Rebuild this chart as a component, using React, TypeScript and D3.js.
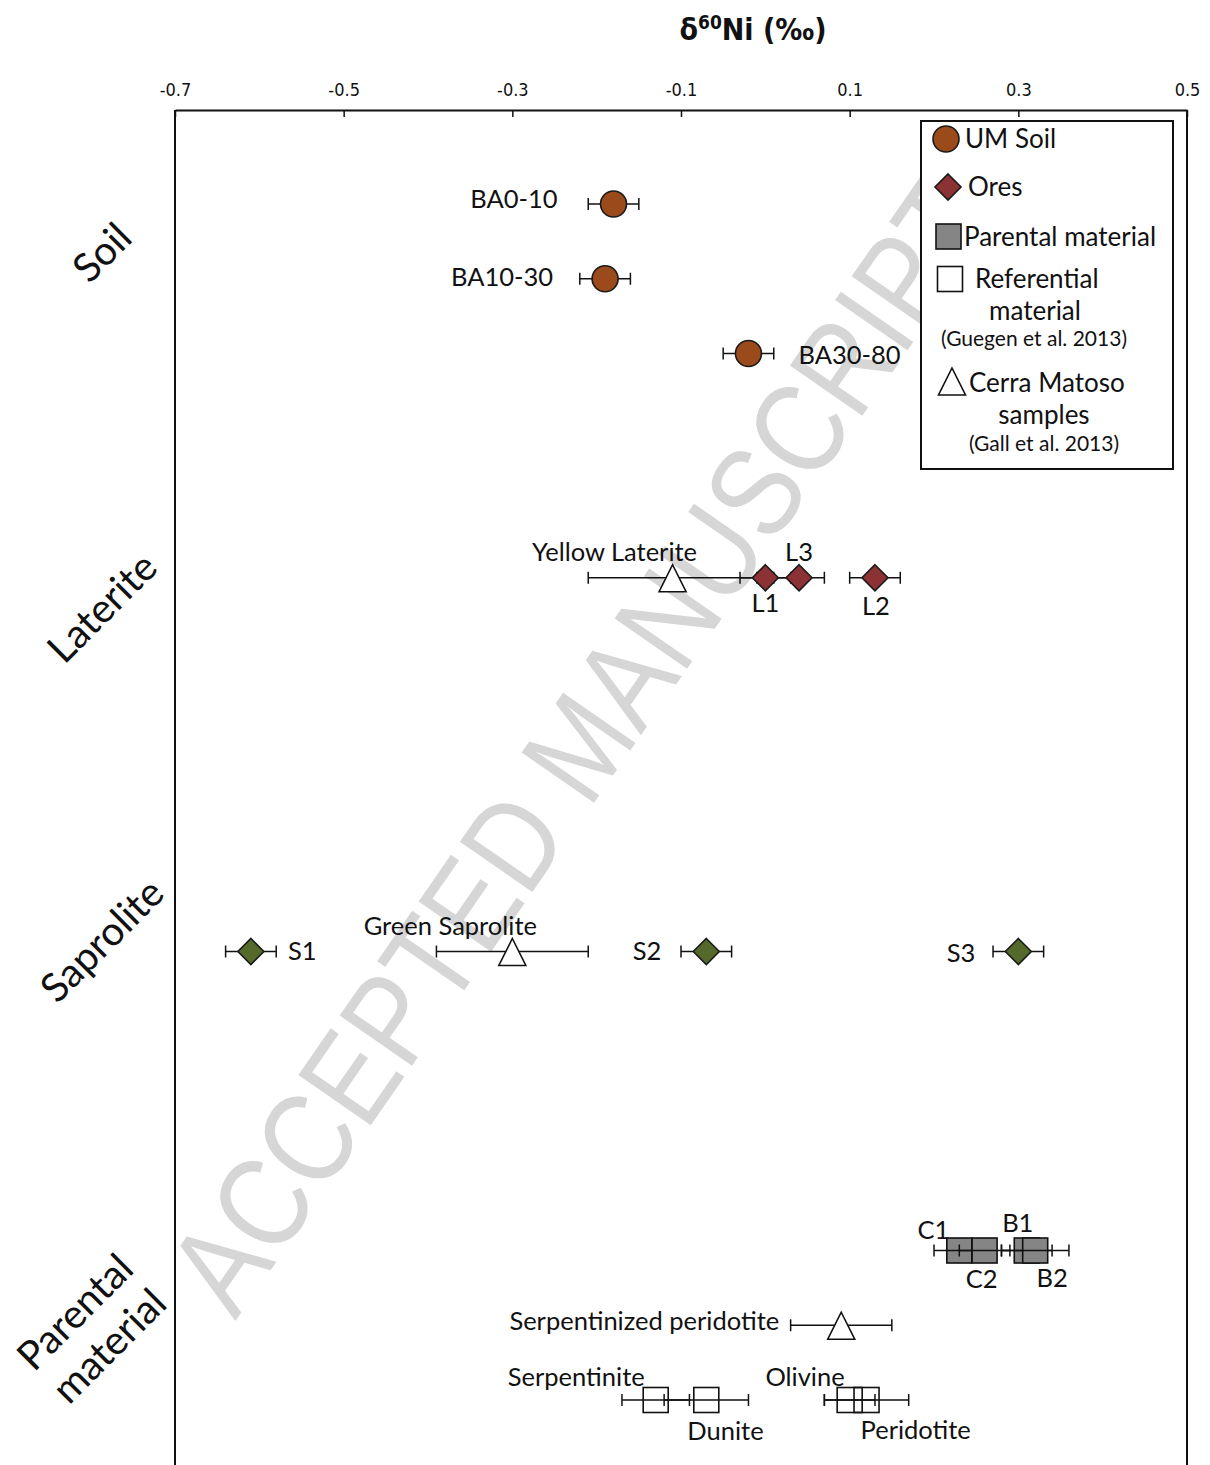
import React, { useEffect, useRef } from "react";
import * as d3 from "d3";

// δ60Ni values (‰) with 2SD error, row = vertical slot in the figure
const soilSamples = [
  { name: "BA0-10", value: -0.18, err: 0.03, row: 0 },
  { name: "BA10-30", value: -0.19, err: 0.03, row: 1 },
  { name: "BA30-80", value: -0.02, err: 0.03, row: 2 },
];
const oreSamples = [
  { name: "L1", value: 0.0, err: 0.03, row: 5 },
  { name: "L3", value: 0.04, err: 0.03, row: 5 },
  { name: "L2", value: 0.13, err: 0.03, row: 5 },
];
const saproliteSamples = [
  { name: "S1", value: -0.61, err: 0.03, row: 10 },
  { name: "S2", value: -0.07, err: 0.03, row: 10 },
  { name: "S3", value: 0.3, err: 0.03, row: 10 },
];
const parentalSamples = [
  { name: "C1", value: 0.23, err: 0.03, row: 14 },
  { name: "C2", value: 0.26, err: 0.03, row: 14 },
  { name: "B1", value: 0.31, err: 0.03, row: 14 },
  { name: "B2", value: 0.32, err: 0.04, row: 14 },
];
const referenceSamples = [
  { name: "Serpentinite", value: -0.13, err: 0.04, row: 16 },
  { name: "Dunite", value: -0.07, err: 0.05, row: 16 },
  { name: "Olivine", value: 0.1, err: 0.03, row: 16 },
  { name: "Peridotite", value: 0.12, err: 0.05, row: 16 },
];
const cerroMatosoSamples = [
  { name: "Yellow Laterite", value: -0.11, err: 0.1, row: 5 },
  { name: "Green Saprolite", value: -0.3, err: 0.09, row: 10 },
  { name: "Serpentinized peridotite", value: 0.09, err: 0.06, row: 15 },
];
const zoneLabels = [
  { lines: ["Soil"], row: 0.65 },
  { lines: ["Laterite"], row: 5.4 },
  { lines: ["Saprolite"], row: 9.85 },
  { lines: ["Parental", "material"], row: 15.05 },
];
const xTicks = [-0.7, -0.5, -0.3, -0.1, 0.1, 0.3, 0.5];

// where each sample's name sits relative to its marker
const labelPlace: Record<string, [string, number, number]> = {
  "BA0-10": ["end", -56, -5],
  "BA10-30": ["end", -52, -2],
  "BA30-80": ["start", 50, 1],
  "Yellow Laterite": ["middle", -58, -26],
  L1: ["middle", 0, 25],
  L3: ["middle", 0, -26],
  L2: ["middle", 1, 28],
  S1: ["start", 37, -1],
  "Green Saprolite": ["middle", -62, -26],
  S2: ["end", -45, -1],
  S3: ["end", -43, 1],
  C1: ["middle", -26, -21],
  C2: ["middle", -3, 28],
  B1: ["middle", -9, -28],
  B2: ["middle", 17, 27],
  "Serpentinized peridotite": ["end", -62, -4],
  Serpentinite: ["end", -11, -23],
  Dunite: ["start", -19, 31],
  Olivine: ["end", -5, -23],
  Peridotite: ["start", -6, 30],
};

const W = 1210;
const H = 1465;
const FONT = "Lato, 'Open Sans', sans-serif";
const SOIL = "#9a4a1b";
const ORE = "#8c3134";
const SAPRO = "#55692a";
const GREY = "#858585";

const x = d3.scaleLinear().domain([-0.7, 0.5]).range([175, 1187]);
const y = d3.scaleLinear().domain([0, 16]).range([204, 1400]);

const ErrBar = ({ d }) => {
  const cy = y(d.row);
  const x0 = x(d.value - d.err);
  const x1 = x(d.value + d.err);
  return (
    <g stroke="#111" strokeWidth={1.5}>
      <line x1={x0} x2={x1} y1={cy} y2={cy} />
      <line x1={x0} x2={x0} y1={cy - 6} y2={cy + 6} />
      <line x1={x1} x2={x1} y1={cy - 6} y2={cy + 6} />
    </g>
  );
};

const Circle = ({ cx, cy, fill }) => (
  <circle cx={cx} cy={cy} r={13} fill={fill} stroke="#1a1a1a" strokeWidth={1.6} />
);
const Diamond = ({ cx, cy, fill }) => (
  <path
    d={`M${cx},${cy - 13}L${cx + 13},${cy}L${cx},${cy + 13}L${cx - 13},${cy}Z`}
    fill={fill}
    stroke="#1a1a1a"
    strokeWidth={1.6}
  />
);
const Triangle = ({ cx, cy }) => (
  <path
    d={`M${cx},${cy - 13}L${cx + 13.5},${cy + 14}L${cx - 13.5},${cy + 14}Z`}
    fill="#fff"
    stroke="#111"
    strokeWidth={1.6}
  />
);
const Square = ({ cx, cy, fill }) => (
  <rect x={cx - 12.5} y={cy - 12.5} width={25} height={25} fill={fill} stroke="#111" strokeWidth={1.6} />
);

const Label = ({ d }) => {
  const [anchor, dx, dy] = labelPlace[d.name];
  return (
    <text
      x={x(d.value) + dx}
      y={y(d.row) + dy + 9}
      textAnchor={anchor}
      fontFamily={FONT}
      fontSize={25.5}
      fill="#111"
    >
      {d.name}
    </text>
  );
};

const Axis = () => {
  const ref = useRef(null);
  useEffect(() => {
    const g = d3.select(ref.current);
    g.selectAll("*").remove();
    g.call(
      d3
        .axisTop(x)
        .tickValues(xTicks)
        .tickSizeInner(-7)
        .tickSizeOuter(0)
        .tickPadding(14)
        .tickFormat((d) => (+d).toFixed(1))
    );
    g.select(".domain").attr("stroke", "#111").attr("stroke-width", 2);
    g.selectAll(".tick line").attr("stroke", "#111").attr("stroke-width", 1.5);
    g.selectAll(".tick text")
      .attr("font-family", "'Liberation Sans Narrow', 'DejaVu Sans Condensed', Lato, sans-serif")
      .attr("font-size", 18)
      .attr("fill", "#111");
  }, []);
  return <g ref={ref} transform="translate(0,110)" />;
};

export default function App() {
  const legendX = 921;
  const legendY = 121;
  return (
    <svg
      width={W}
      height={H}
      style={{ position: "absolute", left: 0, top: 0, background: "#fff" }}
    >
      {/* watermark */}
      <text
        transform="translate(580,745) rotate(-55.3)"
        textAnchor="middle"
        dominantBaseline="central"
        fontFamily="'Liberation Sans', Arial, sans-serif"
        fontSize={128}
        fill="#d6d6d6"
        textLength={1340}
        lengthAdjust="spacingAndGlyphs"
      >
        ACCEPTED MANUSCRIPT
      </text>

      {/* title */}
      <text
        x={753}
        y={40}
        textAnchor="middle"
        fontFamily="'Liberation Sans Narrow', 'DejaVu Sans Condensed', Lato, sans-serif"
        fontWeight="bold"
        fontSize={30}
        fill="#111"
      >
        δ<tspan fontSize={19} dy={-11}>60</tspan>
        <tspan dy={11}>Ni  (‰)</tspan>
      </text>

      {/* frame */}
      <line x1={175} x2={175} y1={110} y2={H + 5} stroke="#111" strokeWidth={2} />
      <line x1={1187} x2={1187} y1={110} y2={H + 5} stroke="#111" strokeWidth={2} />
      <Axis />

      {/* zone labels */}
      {zoneLabels.map((z) => (
        <text
          key={z.lines[0]}
          transform={`translate(${z.lines.length > 1 ? 92 : 102},${y(z.row)}) rotate(-45)`}
          textAnchor="middle"
          fontFamily={FONT}
          fontSize={40}
          fill="#111"
        >
          {z.lines.map((l, i) => (
            <tspan key={l} x={0} y={(i - (z.lines.length - 1) / 2) * 48 + 14}>
              {l}
            </tspan>
          ))}
        </text>
      ))}

      {/* error bars behind filled round/diamond markers */}
      {[...soilSamples, ...cerroMatosoSamples, ...oreSamples, ...saproliteSamples].map((d) => (
        <ErrBar key={"e" + d.name} d={d} />
      ))}
      {soilSamples.map((d) => (
        <Circle key={d.name} cx={x(d.value)} cy={y(d.row)} fill={SOIL} />
      ))}
      {cerroMatosoSamples.map((d) => (
        <Triangle key={d.name} cx={x(d.value)} cy={y(d.row)} />
      ))}
      {oreSamples.map((d) => (
        <Diamond key={d.name} cx={x(d.value)} cy={y(d.row)} fill={ORE} />
      ))}
      {saproliteSamples.map((d) => (
        <Diamond key={d.name} cx={x(d.value)} cy={y(d.row)} fill={SAPRO} />
      ))}

      {/* square markers: bars drawn over the boxes */}
      {parentalSamples.map((d) => (
        <g key={d.name}>
          <Square cx={x(d.value)} cy={y(d.row)} fill={GREY} />
          <ErrBar d={d} />
        </g>
      ))}
      {referenceSamples.map((d) => (
        <g key={d.name}>
          <Square cx={x(d.value)} cy={y(d.row)} fill="none" />
          <ErrBar d={d} />
        </g>
      ))}

      {[
        ...soilSamples,
        ...oreSamples,
        ...saproliteSamples,
        ...parentalSamples,
        ...referenceSamples,
        ...cerroMatosoSamples,
      ].map((d) => (
        <Label key={"l" + d.name} d={d} />
      ))}

      {/* legend */}
      <g fontFamily={FONT} fill="#111">
        <rect x={legendX} y={legendY} width={252} height={348} fill="#fff" stroke="#111" strokeWidth={2} />
        <Circle cx={946} cy={139} fill={SOIL} />
        <text x={965} y={148} fontSize={26}>UM Soil</text>
        <Diamond cx={948} cy={187} fill={ORE} />
        <text x={968} y={196} fontSize={26}>Ores</text>
        <Square cx={948.5} cy={236.5} fill={GREY} />
        <text x={964} y={246} fontSize={26}>Parental material</text>
        <Square cx={950} cy={279} fill="#fff" />
        <text x={975} y={288} fontSize={26}>Referential</text>
        <text x={1035} y={320} fontSize={26} textAnchor="middle">material</text>
        <text x={1034} y={346} fontSize={21} textAnchor="middle">(Guegen et al. 2013)</text>
        <Triangle cx={952} cy={381} />
        <text x={969} y={392} fontSize={26}>Cerra Matoso</text>
        <text x={1044} y={424} fontSize={26} textAnchor="middle">samples</text>
        <text x={1044} y={451} fontSize={21} textAnchor="middle">(Gall et al. 2013)</text>
      </g>
    </svg>
  );
}
